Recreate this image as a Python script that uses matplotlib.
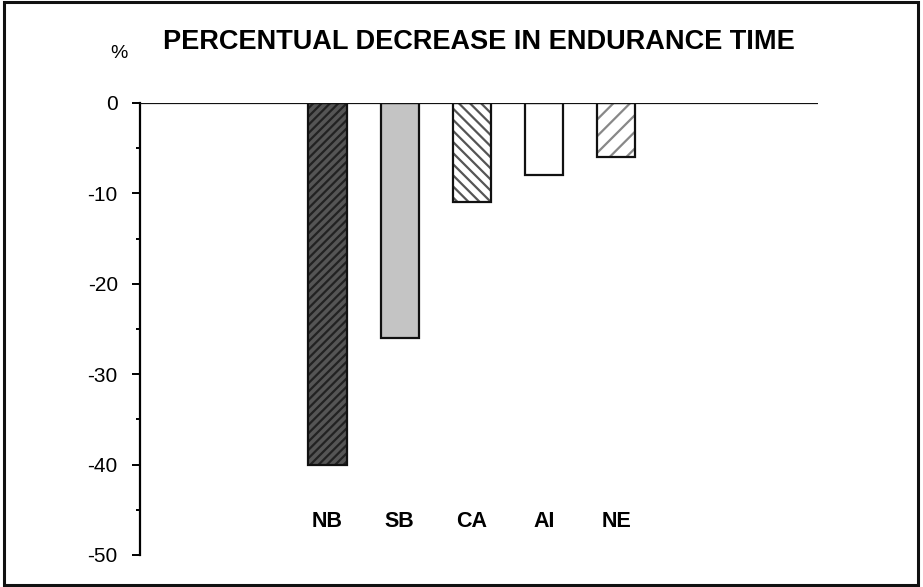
import matplotlib
matplotlib.use("Agg")
import matplotlib.pyplot as plt
from matplotlib.patches import Rectangle

categories = ["NB", "SB", "CA", "AI", "NE"]
values = [-40, -26, -11, -8, -6]
yticks = [0, -10, -20, -30, -40, -50]

plt.rcParams['font.family'] = ['Liberation Sans', 'DejaVu Sans']
plt.rcParams['hatch.linewidth'] = 1.6

fig = plt.figure(figsize=(9.23, 5.87), dpi=100)
W, H = 923, 587
ax = fig.add_axes([140 / W, 1 - 555 / H, (818 - 140) / W, (555 - 103) / H])

x = list(range(len(categories)))
faces = ["#555555", "#c4c4c4", "white", "white", "white"]
hatches = ["////", None, "\\\\\\", None, "//"]
hcolors = ["#222222", "#c4c4c4", "#555555", "black", "#888888"]
for xi, v, fc, h, hc in zip(x, values, faces, hatches, hcolors):
    ax.bar(xi, v, width=0.53, color=fc, hatch=h, edgecolor=hc, linewidth=0)
    ax.bar(xi, v, width=0.53, fill=False, edgecolor="#111111", linewidth=1.6)

ax.axhline(0, color="#111111", linewidth=1.6, zorder=5)
ax.set_xlim(-2.6, 6.8)
ax.set_ylim(-50, 0)

for s in ["top", "right", "bottom"]:
    ax.spines[s].set_visible(False)
ax.spines["left"].set_linewidth(1.6)
ax.set_xticks([])
ax.set_yticks(yticks)
ax.set_yticklabels([str(t) for t in yticks], fontsize=15)
ax.set_yticks([-5, -15, -25, -35, -45], minor=True)
ax.tick_params(axis="y", which="major", length=6, width=1.4, pad=10)
ax.tick_params(axis="y", which="minor", length=3, width=1.4)

for xi, c in zip(x, categories):
    ax.text(xi, -46.3, c, ha="center", va="center", fontsize=15.5, fontweight="bold")

fig.text(163 / W, 1 - 42 / H, "PERCENTUAL DECREASE IN ENDURANCE TIME", ha="left", va="center",
         fontsize=19.5, fontweight="bold")
fig.text(119 / W, 1 - 54 / H, "%", ha="center", va="center", fontsize=14)

fig.patches.append(Rectangle((4 / W, 2 / H), (918 - 4) / W, (585 - 2) / H, transform=fig.transFigure,
                             fill=False, edgecolor="#111111", linewidth=2.2))

fig.savefig("out.png", dpi=100)
